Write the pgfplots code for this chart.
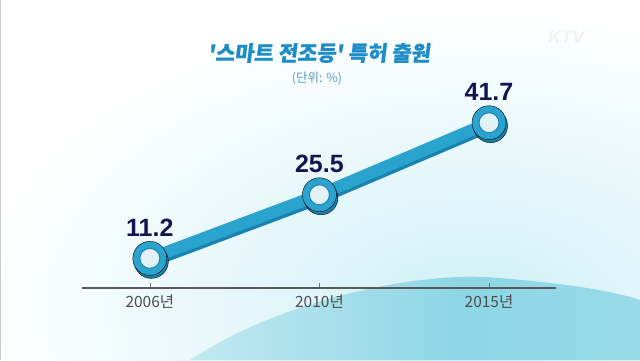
\documentclass[border=0pt]{standalone}
\usepackage{fontspec}
\setmainfont{Liberation Sans}
\newfontfamily\cjk{Noto Sans CJK KR}
\newfontfamily\cjkb{Noto Sans CJK KR Black}[FakeSlant=0.12,FakeBold=0.8]
\usepackage{pgfplots}
\pgfplotsset{compat=1.18}
\definecolor{lineblue}{HTML}{2AA4CF}
\definecolor{shadeblue}{HTML}{1A82B0}
\definecolor{innerfill}{HTML}{E3F2F9}
\definecolor{navy}{HTML}{141450}
\definecolor{titleblue}{HTML}{1E8CC6}
\definecolor{subblue}{HTML}{5E9CCB}
\definecolor{bgcyan}{HTML}{8ED6E5}
\definecolor{bgcyanl}{HTML}{CFF0F6}
\pgfdeclarehorizontalshading{wave}{100bp}{color(0bp)=(white); color(25bp)=(bgcyan!55); color(55bp)=(bgcyan); color(100bp)=(bgcyan!80)}
\begin{document}
\begin{tikzpicture}
\useasboundingbox (0pt,0pt) rectangle (640pt,360pt);
\fill[white] (0pt,0pt) rectangle (640pt,360pt);
% background waves
\begin{scope}
\clip (0pt,0pt) rectangle (640pt,360pt);
\shade[inner color=bgcyanl, outer color=white] (470pt,50pt) ellipse (500pt and 300pt);
\shade[shading=wave]
  (190pt,0pt) .. controls (280pt,60pt) and (420pt,90pt) .. (500pt,82pt) .. controls (560pt,77pt) and (610pt,70pt) .. (640pt,60pt) -- (640pt,0pt) -- cycle;
\end{scope}
\draw[gray!40, line width=1pt] (0.5pt,0pt) -- (0.5pt,360pt);
% title
\node[font=\cjkb\fontsize{21}{21}\selectfont, text=titleblue] at (319pt,307pt) {'스마트 전조등' 특허 출원};
\node[font=\cjk\fontsize{12.5}{12.5}\selectfont, text=subblue] at (317pt,281pt) {(단위: \%)};
% logo
\node[font=\bfseries\itshape\fontsize{18}{18}\selectfont, text=gray!10] at (566pt,323pt) {KTV};
\begin{axis}[
  at={(82pt,72pt)}, anchor=south west,
  width=474pt, height=228pt, scale only axis,
  xmin=-0.4, xmax=2.395, ymin=4.54, ymax=55.8,
  axis x line=bottom, hide y axis,
  axis line style={-, draw=black!65, line width=1.6pt},
  xtick={0,1,2}, xticklabels={2006년,2010년,2015년},
  xticklabel style={font=\cjk\fontsize{15.5}{15.5}\selectfont, text=black!70, yshift=-3pt},
  tick align=inside, major tick length=5pt,
  tick style={draw=black!55, line width=0.6pt},
  clip=false,
  /pgf/number format/assume math mode=true,
]
% shadow of line
\addplot[shadeblue, line width=13pt, line cap=round, yshift=-3pt] coordinates {(0,11.2) (1,25.5) (2,41.7)};
\addplot[lineblue, line width=12pt, line cap=round] coordinates {(0,11.2) (1,25.5) (2,41.7)};
% marker shadows
\addplot[only marks, mark=*, mark size=17pt, mark options={fill=shadeblue, draw=none, yshift=-3pt, xshift=1.5pt}] coordinates {(0,11.2) (1,25.5) (2,41.7)};
\addplot[only marks, mark=*, mark size=17pt, mark options={fill=lineblue, draw=none}] coordinates {(0,11.2) (1,25.5) (2,41.7)};
\addplot[only marks, mark=*, mark size=10pt, mark options={fill=innerfill, draw=shadeblue, line width=1pt},
  nodes near coords, point meta=y,
  every node near coord/.append style={font=\bfseries\fontsize{25}{25}\selectfont, text=navy, anchor=base, yshift=22pt},
  /pgf/number format/.cd, fixed, fixed zerofill, precision=1] coordinates {(0,11.2) (1,25.5) (2,41.7)};
\end{axis}
\end{tikzpicture}
\end{document}
